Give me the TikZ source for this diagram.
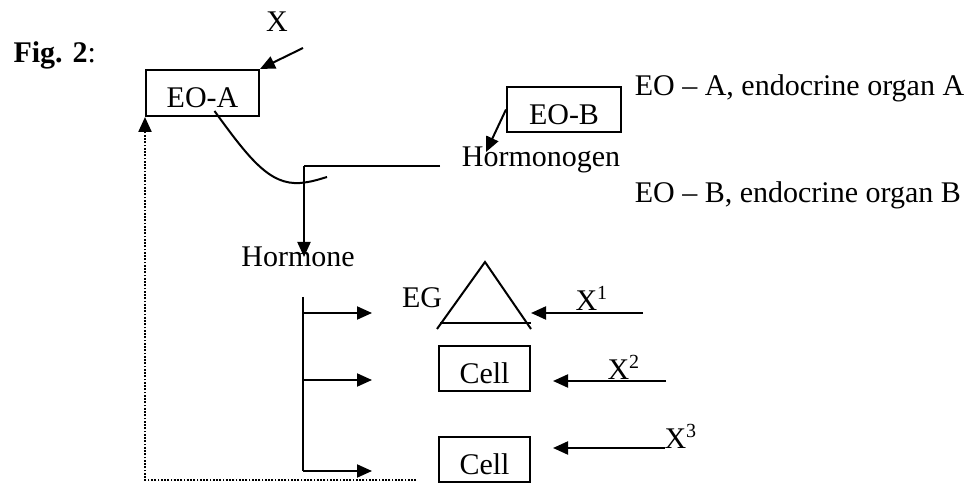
\documentclass[tikz,border=0pt]{standalone}
\usepackage{fontspec}
\setmainfont{Liberation Serif}
\usetikzlibrary{arrows.meta, calc}

\begin{document}
\begin{tikzpicture}[
    x=0.4pt, y=-0.4pt,
    every node/.style={font=\fontsize{12}{14}\selectfont},
    box/.style={rectangle, draw, line width=0.8pt, text height=12pt, text depth=0pt, inner ysep=1pt},
    line/.style={line width=0.8pt},
    arrow/.style={line width=0.8pt, -{Triangle[length=6pt, width=5.2pt]}},
    dots/.style={line width=0.9pt, dash pattern=on 0.7pt off 0.6pt, -{Triangle[length=6pt, width=5.2pt]}}
]
\useasboundingbox (0,0) rectangle (973,485);

% Labels
\node[anchor=west, inner sep=0pt] (fig) at (13,55) {\textbf{Fig. 2}:};
\node (x) at (277,22) {X};
\node[anchor=west] (lega) at (626,88) {EO – A, endocrine organ A};
\node[anchor=west] (legb) at (626,195) {EO – B, endocrine organ B};

% Organs
\node[box, minimum width=45.2pt, minimum height=18.4pt] (eoa) at (202.5,93) {EO-A};
\node[box, minimum width=45.6pt, minimum height=18pt] (eob) at (564,109.5) {EO-B};
\node (hgen) at (541,160) {Hormonogen};
\node[inner sep=0pt] (hmone) at (298,257) {Hormone};

% Targets
\node (eg) at (422,298) {EG};
\node[box, minimum width=36.4pt, minimum height=18pt] (cell1) at (484.5,368.5) {Cell};
\node[box, minimum width=36.4pt, minimum height=18pt] (cell2) at (484.5,459) {Cell};
\node (x1) at (592,298) {X\textsuperscript{1}};
\node (x2) at (624,367) {X\textsuperscript{2}};
\node (x3) at (681,436) {X\textsuperscript{3}};

% Free ends
\coordinate (xs) at (303,48);
\coordinate (hgl) at (440,166);
\coordinate (hgc) at (304,166);
\coordinate (hgtip) at (486,152);
\coordinate (bus) at (303,297);
\coordinate (b1) at (303,313);
\coordinate (b2) at (303,380);
\coordinate (b3) at (303,471);
\coordinate (egtop) at (485,262);
\coordinate (x1s) at (643,313);
\coordinate (x1e) at (531,313);
\coordinate (x2s) at (666,381);
\coordinate (x2e) at (553,381);
\coordinate (x3s) at (665,448);
\coordinate (x3e) at (553,448);
\coordinate (dotend) at (416,480);

% Connections
\draw[arrow] (xs) -- (eoa.north east);
\draw[line] ($(eoa.south)+(12,-6)$) .. controls (250,160) and (270,185) .. (300,183)
    .. controls (312,182) and (320,179) .. (327,177);
\draw[arrow] (eob.west) -- (hgtip);
\draw[line] (hgl) -- (hgc);
\draw[arrow] (hgc) -- (hgc |- hmone.center);
\draw[line] (bus) -- (b3);
\draw[arrow] (b1) -- ++(69,0);
\draw[arrow] (b2) -- ++(69,0);
\draw[arrow] (b3) -- ++(69,0);

% Gland
\draw[line] ($(egtop)+(-48,67)$) -- (egtop) -- ($(egtop)+(46,67)$);
\draw[line] ($(egtop)+(-45,61)$) -- ($(egtop)+(46,61)$);

\draw[arrow] (x1s) -- (x1e);
\draw[arrow] (x2s) -- (x2e);
\draw[arrow] (x3s) -- (x3e);

% Feedback
\draw[dots] (dotend) -| (eoa.south west);
\end{tikzpicture}
\end{document}
